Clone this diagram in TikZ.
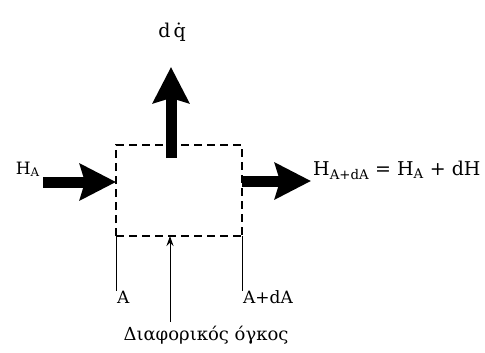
\documentclass[tikz,border=0pt]{standalone}
\usepackage{fontspec}
\setmainfont{DejaVu Serif}
\usetikzlibrary{arrows.meta}
\begin{document}
\begin{tikzpicture}[x=1pt, y=-1pt, >=Stealth, font=\fontsize{17}{20}\selectfont]
\tikzset{
  flow/.style={line width=11pt, -{Stealth[length=36pt, width=36pt, inset=5pt]}},
  cv/.style={line width=1.3pt, dash pattern=on 8pt off 5pt},
  edge/.style={line width=1pt}
}
\useasboundingbox (0,0) rectangle (485,353);
% control volume
\coordinate (tl) at (116,145);
\coordinate (tr) at (242,145);
\coordinate (bl) at (116,236);
\coordinate (br) at (242,236);
\coordinate (bm) at (170,236);
\coordinate (la) at (116,291);
\coordinate (lb) at (242,291);
\draw[cv] (bl) -- (tl) -- (tr) -- (br);
\draw[cv] (bl) -- (br);
\draw[edge] (bl) -- (la);
\draw[edge] (br) -- (lb);
% heat and enthalpy flows
\coordinate (qs) at (171,158);
\coordinate (qe) at (171,67);
\draw[flow] (qs) -- (qe);
\coordinate (ins) at (43,182);
\draw[flow] (ins) -- (tl |- ins);
\coordinate (outs) at (242,181);
\coordinate (oute) at (311,181);
\draw[flow] (outs) -- (oute);
% labels
\node[anchor=base, font=\fontsize{19}{20}\selectfont] (dq) at (172,38) {d\,\.{q}};
\node[anchor=base east, inner sep=1pt] (ha) at (41,174) {H\textsubscript{A}};
\node[anchor=base west, inner sep=1pt, font=\fontsize{19}{20}\selectfont] (hadA) at (312,175) {H\textsubscript{A+dA} = H\textsubscript{A} + dH};
\node[anchor=base west, inner sep=1pt] (A) at (116,303) {A};
\node[anchor=base west, inner sep=1pt] (AdA) at (242,303) {A+dA};
\node[anchor=base, font=\fontsize{18}{20}\selectfont] (vol) at (206,340) {Διαφορικός όγκος};
\draw[edge, -{Stealth[length=10pt, width=7pt]}] (vol.north -| bm) -- (bm);
\end{tikzpicture}
\end{document}
